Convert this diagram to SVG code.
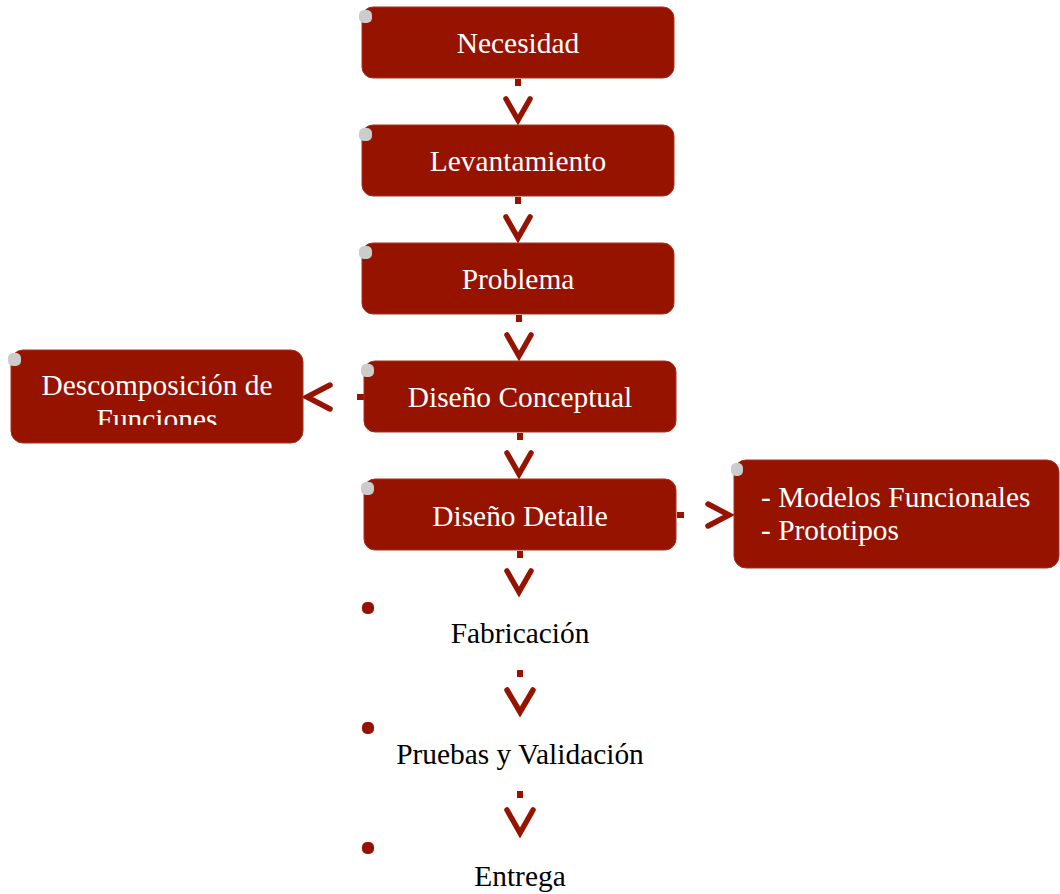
<svg xmlns="http://www.w3.org/2000/svg" width="1060" height="894" viewBox="0 0 1060 894">
<defs>
<style>
.box{fill:#961300;stroke:#a8301f;stroke-width:1}
.dot{fill:#cccccc}
.rdot{fill:#961300}
.wt{font-family:"Liberation Serif","Times New Roman",serif;font-size:29.4px;fill:#ffffff}
.bt{font-family:"Liberation Serif","Times New Roman",serif;font-size:29.4px;fill:#000000}
.c{stroke:#961300;stroke-width:5.5;fill:none;stroke-linecap:round;stroke-linejoin:miter}
.d{fill:#961300}
</style>
<clipPath id="clipDesc"><rect x="11" y="350" width="292" height="75"/></clipPath>
</defs>
<rect width="1060" height="894" fill="#ffffff"/>
<g id="connectors">
<rect class="d" x="515" y="79" width="6" height="7"/>
<polyline class="c" points="506,99 518,120 530,99"/>
<rect class="d" x="515" y="197" width="6" height="7"/>
<polyline class="c" points="506,217 518,238 530,217"/>
<rect class="d" x="516" y="315" width="6" height="7"/>
<polyline class="c" points="507,335 519,356 531,335"/>
<rect class="d" x="517" y="433" width="6" height="7"/>
<polyline class="c" points="507,453 519,474 531,453"/>
<rect class="d" x="517" y="551" width="6" height="7"/>
<polyline class="c" points="507,571 519,592 531,571"/>
<rect class="d" x="517" y="670" width="6" height="7"/>
<polyline class="c" points="507,690 520,712 533,690"/>
<rect class="d" x="517" y="791" width="6" height="7"/>
<polyline class="c" points="507,810 520,833 533,810"/>
<rect class="d" x="357" y="394" width="7" height="6"/>
<polyline class="c" points="330,385 307,397 330,409"/>
<rect class="d" x="677" y="512" width="7" height="6"/>
<polyline class="c" points="708,504 729,515 708,526"/>
</g>
<g id="n1">
<rect class="box" x="362" y="7" width="312" height="71" rx="11"/>
<rect class="dot" x="359" y="10" width="13" height="13" rx="5"/>
<text class="wt" x="518" y="53" text-anchor="middle">Necesidad</text>
</g>
<g id="n2">
<rect class="box" x="362" y="125" width="312" height="71" rx="11"/>
<rect class="dot" x="359" y="128" width="13" height="13" rx="5"/>
<text class="wt" x="518" y="171" text-anchor="middle">Levantamiento</text>
</g>
<g id="n3">
<rect class="box" x="362" y="243" width="312" height="71" rx="11"/>
<rect class="dot" x="359" y="246" width="13" height="13" rx="5"/>
<text class="wt" x="518" y="289" text-anchor="middle">Problema</text>
</g>
<g id="n4">
<rect class="box" x="364" y="361" width="312" height="71" rx="11"/>
<rect class="dot" x="361" y="364" width="13" height="13" rx="5"/>
<text class="wt" x="520" y="407" text-anchor="middle">Diseño Conceptual</text>
</g>
<g id="n5">
<rect class="box" x="364" y="479" width="312" height="71" rx="11"/>
<rect class="dot" x="361" y="482" width="13" height="13" rx="5"/>
<text class="wt" x="520" y="526" text-anchor="middle">Diseño Detalle</text>
</g>
<g id="desc">
<rect class="box" x="11" y="350" width="292" height="93" rx="12"/>
<rect class="dot" x="8" y="353" width="13" height="13" rx="5"/>
<g clip-path="url(#clipDesc)">
<text class="wt" x="157" y="395" text-anchor="middle">Descomposición de</text>
<text class="wt" x="157" y="429" text-anchor="middle">Funciones</text>
</g>
</g>
<g id="modelos">
<rect class="box" x="734" y="460" width="325" height="108" rx="12"/>
<rect class="dot" x="731" y="463" width="12" height="13" rx="5"/>
<text class="wt" x="761" y="507">- Modelos Funcionales</text>
<text class="wt" x="761" y="540">- Prototipos</text>
</g>
<g id="fab">
<rect class="rdot" x="362" y="602" width="12" height="12" rx="5"/>
<text class="bt" x="520" y="643" text-anchor="middle">Fabricación</text>
</g>
<g id="pruebas">
<rect class="rdot" x="362" y="722" width="12" height="12" rx="5"/>
<text class="bt" x="520" y="764" text-anchor="middle">Pruebas y Validación</text>
</g>
<g id="entrega">
<rect class="rdot" x="362" y="842" width="12" height="12" rx="5"/>
<text class="bt" x="520" y="886" text-anchor="middle">Entrega</text>
</g>
</svg>
